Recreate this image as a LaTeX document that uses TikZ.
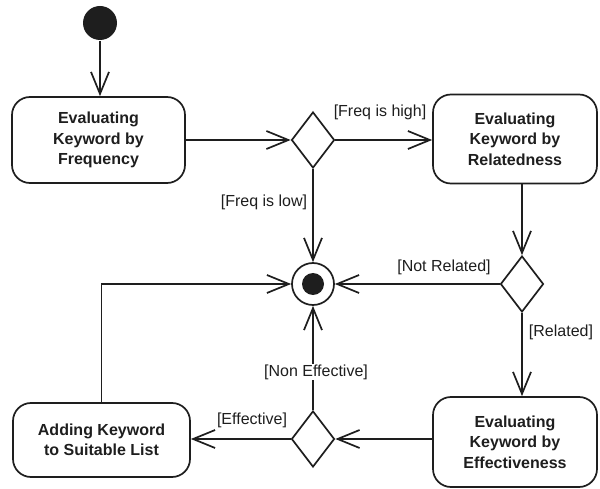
\documentclass[tikz,border=0pt]{standalone}
\usepackage{fontspec}
\setmainfont{Liberation Sans}
\usetikzlibrary{arrows.meta,shapes.geometric}
\definecolor{ink}{HTML}{1E1E1E}
\begin{document}
\begin{tikzpicture}[x=1pt,y=-1pt,
  line width=1.7pt, draw=ink,
  activity/.style={draw=ink, rectangle, rounded corners=18pt, align=center,
    inner sep=0pt, text=ink, font=\bfseries\fontsize{16}{20.5}\selectfont},
  choice/.style={draw=ink, diamond, inner sep=0pt, minimum width=43pt, minimum height=56pt},
  guard/.style={text=ink, inner sep=1pt, font=\fontsize{16}{19}\selectfont},
  arr/.style={-{Straight Barb[length=22pt,width=18pt]}}]
\useasboundingbox (0,0) rectangle (600,489);

% initial and final states
\node[circle, fill=ink, minimum size=34pt, inner sep=0pt] (start) at (100,23) {};
\node[circle, draw=ink, fill=white, minimum size=42pt, inner sep=0pt] (final) at (313,284) {};
\node[circle, fill=ink, minimum size=22pt, inner sep=0pt] (finaldot) at (final) {};

% activities
\node[activity, minimum width=173pt, minimum height=86pt] (freq) at (98.5,140)
  {Evaluating\\Keyword by\\Frequency};
\node[activity, minimum width=164pt, minimum height=89pt] (rel) at (515,139)
  {Evaluating\\Keyword by\\Relatedness};
\node[activity, minimum width=177pt, minimum height=74pt] (add) at (101.5,440)
  {Adding Keyword\\to Suitable List};
\node[activity, minimum width=164pt, minimum height=90pt] (eff) at (515,442)
  {Evaluating\\Keyword by\\Effectiveness};

% decisions
\node[choice] (d1) at (313,140) {};
\node[choice] (d2) at (522,284) {};
\node[choice] (d3) at (313,439) {};

% flows
\draw[arr] (start) -- (start |- freq.north);
\draw[arr] (freq.east |- d1) -- (d1.west);
\draw[arr] (d1.east) -- (d1 -| rel.west);
\draw[arr] (d1.south) -- (final.north);
\draw[arr] (d2 |- rel.south) -- (d2.north);
\draw[arr] (d2.west) -- (final.east);
\draw[arr] (d2.south) -- (d2 |- eff.north);
\draw[arr] (d3 -| eff.west) -- (d3.east);
\draw[arr] (d3.west) -- (d3 -| add.east);
\draw[arr] (d3.north) -- (final.south);
\draw[arr] (add.north) |- (final.west);

% guards
\node[guard] (ghigh) at (380,112) {[Freq is high]};
\node[guard, anchor=east] (glow) at (309,202) {[Freq is low]};
\node[guard] (gnotrel) at (444,267) {[Not Related]};
\node[guard] (grel) at (561,332) {[Related]};
\node[guard, fill=white] (gnoneff) at (316,372) {[Non Effective]};
\node[guard] (geff) at (252,420) {[Effective]};
\end{tikzpicture}
\end{document}
